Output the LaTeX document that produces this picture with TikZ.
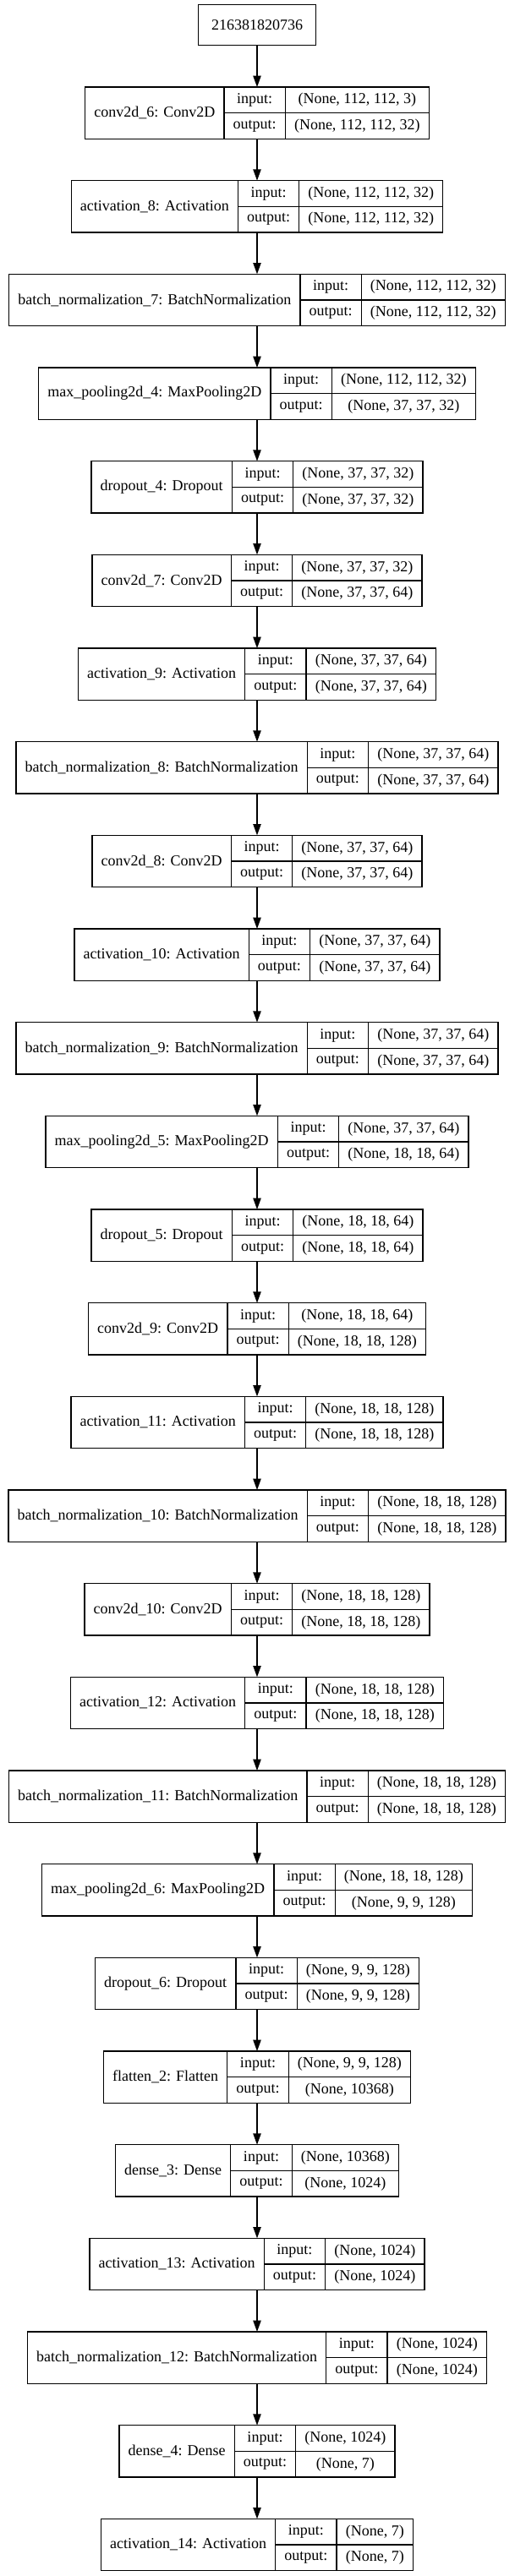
\documentclass[tikz,border=0pt]{standalone}
\usepackage{fontspec}
\setmainfont{Liberation Serif}
\usetikzlibrary{arrows.meta}

\newcommand\lfont{\fontsize{13.5pt}{16pt}\selectfont}
\newlength\lw \newlength\mw \newlength\rw \newlength\tw

% one layer: name, label, input shape, output shape, row
\newcommand\kerasrow[5]{%
  \pgfinterruptpicture\lfont%
    \settowidth\lw{#2}\global\lw=\lw%
    \settowidth\mw{output:}\global\mw=\mw%
    \settowidth\rw{#3}\settowidth\tw{#4}%
    \ifdim\tw>\rw\rw=\tw\fi\global\rw=\rw%
  \endpgfinterruptpicture%
  \addtolength\lw{16pt}\addtolength\mw{16pt}\addtolength\rw{16pt}%
  \pgfmathsetmacro\rowy{-100.25-83*#5}%
  \node[frame, minimum width=\lw+\mw+\rw] (#1) at (228,\rowy) {};
  \node[cell, minimum width=\lw, minimum height=46pt, anchor=west] (#1-n) at (#1.west) {#2};
  \node[cell, minimum width=\mw, anchor=north west] (#1-i) at (#1-n.north east) {input:};
  \node[cell, minimum width=\mw, anchor=north west] (#1-o) at (#1-i.south west) {output:};
  \node[cell, minimum width=\rw, anchor=north west] (#1-is) at (#1-i.north east) {#3};
  \node[cell, minimum width=\rw, anchor=north west] (#1-os) at (#1-o.north east) {#4};
}

\begin{document}
\begin{tikzpicture}[x=1pt, y=1pt,
  cell/.style={draw, line width=1pt, inner sep=0pt, outer sep=0pt, minimum height=23pt, font=\lfont},
  frame/.style={inner sep=0pt, outer sep=0pt, minimum height=46pt},
  arrow/.style={-{Triangle[length=10pt,width=7pt]}, line width=1pt}]

\useasboundingbox (0,0) rectangle (456,-2286);

\node[cell, minimum width=104pt, minimum height=36pt] (inp) at (228,-22) {216381820736};

\kerasrow{conv6}{conv2d\_6: Conv2D}{(None, 112, 112, 3)}{(None, 112, 112, 32)}{0}
\kerasrow{act8}{activation\_8: Activation}{(None, 112, 112, 32)}{(None, 112, 112, 32)}{1}
\kerasrow{bn7}{batch\_normalization\_7: BatchNormalization}{(None, 112, 112, 32)}{(None, 112, 112, 32)}{2}
\kerasrow{pool4}{max\_pooling2d\_4: MaxPooling2D}{(None, 112, 112, 32)}{(None, 37, 37, 32)}{3}
\kerasrow{drop4}{dropout\_4: Dropout}{(None, 37, 37, 32)}{(None, 37, 37, 32)}{4}
\kerasrow{conv7}{conv2d\_7: Conv2D}{(None, 37, 37, 32)}{(None, 37, 37, 64)}{5}
\kerasrow{act9}{activation\_9: Activation}{(None, 37, 37, 64)}{(None, 37, 37, 64)}{6}
\kerasrow{bn8}{batch\_normalization\_8: BatchNormalization}{(None, 37, 37, 64)}{(None, 37, 37, 64)}{7}
\kerasrow{conv8}{conv2d\_8: Conv2D}{(None, 37, 37, 64)}{(None, 37, 37, 64)}{8}
\kerasrow{act10}{activation\_10: Activation}{(None, 37, 37, 64)}{(None, 37, 37, 64)}{9}
\kerasrow{bn9}{batch\_normalization\_9: BatchNormalization}{(None, 37, 37, 64)}{(None, 37, 37, 64)}{10}
\kerasrow{pool5}{max\_pooling2d\_5: MaxPooling2D}{(None, 37, 37, 64)}{(None, 18, 18, 64)}{11}
\kerasrow{drop5}{dropout\_5: Dropout}{(None, 18, 18, 64)}{(None, 18, 18, 64)}{12}
\kerasrow{conv9}{conv2d\_9: Conv2D}{(None, 18, 18, 64)}{(None, 18, 18, 128)}{13}
\kerasrow{act11}{activation\_11: Activation}{(None, 18, 18, 128)}{(None, 18, 18, 128)}{14}
\kerasrow{bn10}{batch\_normalization\_10: BatchNormalization}{(None, 18, 18, 128)}{(None, 18, 18, 128)}{15}
\kerasrow{conv10}{conv2d\_10: Conv2D}{(None, 18, 18, 128)}{(None, 18, 18, 128)}{16}
\kerasrow{act12}{activation\_12: Activation}{(None, 18, 18, 128)}{(None, 18, 18, 128)}{17}
\kerasrow{bn11}{batch\_normalization\_11: BatchNormalization}{(None, 18, 18, 128)}{(None, 18, 18, 128)}{18}
\kerasrow{pool6}{max\_pooling2d\_6: MaxPooling2D}{(None, 18, 18, 128)}{(None, 9, 9, 128)}{19}
\kerasrow{drop6}{dropout\_6: Dropout}{(None, 9, 9, 128)}{(None, 9, 9, 128)}{20}
\kerasrow{flat2}{flatten\_2: Flatten}{(None, 9, 9, 128)}{(None, 10368)}{21}
\kerasrow{dense3}{dense\_3: Dense}{(None, 10368)}{(None, 1024)}{22}
\kerasrow{act13}{activation\_13: Activation}{(None, 1024)}{(None, 1024)}{23}
\kerasrow{bn12}{batch\_normalization\_12: BatchNormalization}{(None, 1024)}{(None, 1024)}{24}
\kerasrow{dense4}{dense\_4: Dense}{(None, 1024)}{(None, 7)}{25}
\kerasrow{act14}{activation\_14: Activation}{(None, 7)}{(None, 7)}{26}

\foreach \a/\b in {inp/conv6, conv6/act8, act8/bn7, bn7/pool4, pool4/drop4, drop4/conv7,
  conv7/act9, act9/bn8, bn8/conv8, conv8/act10, act10/bn9, bn9/pool5, pool5/drop5,
  drop5/conv9, conv9/act11, act11/bn10, bn10/conv10, conv10/act12, act12/bn11,
  bn11/pool6, pool6/drop6, drop6/flat2, flat2/dense3, dense3/act13, act13/bn12,
  bn12/dense4, dense4/act14}
  \draw[arrow] (\a.south) -- (\b.north);

\end{tikzpicture}
\end{document}
